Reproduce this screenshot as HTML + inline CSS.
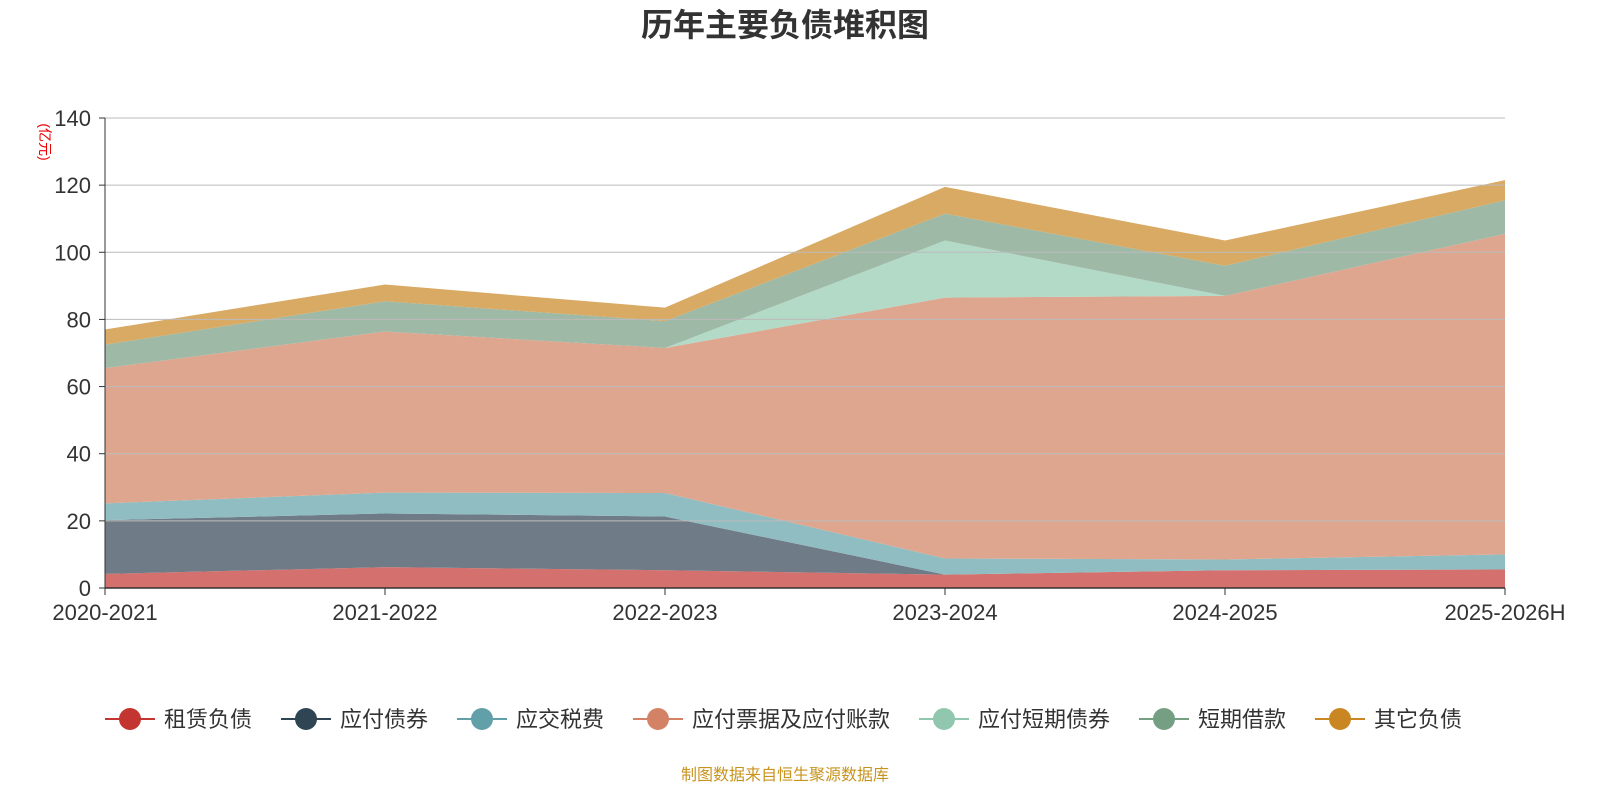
<!DOCTYPE html>
<html><head><meta charset="utf-8"><style>
body{margin:0;background:#fff;width:1600px;height:800px;overflow:hidden;font-family:"Liberation Sans","Noto Sans CJK SC",sans-serif}
</style></head><body>
<svg id="chart" width="1600" height="800" xmlns="http://www.w3.org/2000/svg"></svg>
<script>
const categories=["2020-2021","2021-2022","2022-2023","2023-2024","2024-2025","2025-2026H"];
const seriesNames=["租赁负债","应付债券","应交税费","应付票据及应付账款","应付短期债券","短期借款","其它负债"];
const rent=[4.2,6.2,5.3,4.0,5.3,5.5];
const bonds=[16,16,16,0,0,0];
const tax=[5,6.2,7,4.8,3.2,4.5];
const payables=[40.3,48,43.2,77.7,78.5,95.5];
const shortBonds=[0,0,0,17,0,0];
const loans=[7,9,8,8,9,10];
const other=[4.5,5,4,8,7.5,6];
const yTicks=[0,20,40,60,80,100,120,140];
const series=[rent,bonds,tax,payables,shortBonds,loans,other];
const fills=["#d4706d","#6f7c87","#8fbdc2","#dfa68f","#b3d9c7","#9eb9a5","#d9aa63"];
const dots=["#c23531","#2f4554","#61a0a8","#d48265","#91c7ae","#749f83","#ca8622"];
const svg=document.getElementById('chart');const NS="http://www.w3.org/2000/svg";
const X0=105,X1=1505,Y0=588,Y1=118;
const x=i=>X0+i*(X1-X0)/(categories.length-1);
const y=v=>Y0-(v/140)*(Y0-Y1);
function el(t,a,p){const e=document.createElementNS(NS,t);for(const k in a)e.setAttribute(k,a[k]);(p||svg).appendChild(e);return e;}
let t=el('text',{x:785,y:36,'text-anchor':'middle','font-size':32,'font-weight':'bold',fill:'#333'});t.textContent="历年主要负债堆积图";


let cum=categories.map(()=>0);
series.forEach((s,si)=>{
 const low=cum.slice();cum=cum.map((c,i)=>c+s[i]);
 let d="";cum.forEach((c,i)=>d+=(i?"L":"M")+x(i)+","+y(c));
 for(let i=low.length-1;i>=0;i--)d+="L"+x(i)+","+y(low[i]);
 const p=el('path',{d:d+"Z",fill:fills[si]});
 
 
});
yTicks.forEach(v=>{
 const g=el('line',{x1:X0,x2:X1,y1:y(v),y2:y(v),stroke:v?'#bbb':'#333','stroke-width':v?1:1.5});
 
 
 el('line',{x1:X0-6,x2:X0,y1:y(v),y2:y(v),stroke:'#333'});
 const l=el('text',{x:X0-14,y:y(v)+8,'text-anchor':'end','font-size':22,fill:'#333'});l.textContent=v;
 
 
});
el('line',{x1:X0,x2:X0,y1:Y1,y2:Y0,stroke:'#333'});
const u=el('text',{x:0,y:0,transform:'translate(40,142) rotate(90)','text-anchor':'middle','font-size':14,fill:'#e00'});u.textContent="(亿元)";


categories.forEach((c,i)=>{
 el('line',{x1:x(i),x2:x(i),y1:Y0,y2:Y0+7,stroke:'#333'});
 const l=el('text',{x:x(i),y:620,'text-anchor':'middle','font-size':22,fill:'#333'});
 l.textContent=c;
 
 
});
let lx=105;
seriesNames.forEach((n,i)=>{
 const g=el('g',{});
 
 
 el('line',{x1:lx,x2:lx+50,y1:719,y2:719,stroke:dots[i],'stroke-width':2},g);
 el('circle',{cx:lx+25,cy:719,r:11,fill:dots[i]},g);
 const tt=el('text',{x:lx+59,y:727,'font-size':22,fill:'#333'},g);tt.textContent=n;
 lx+=59+n.length*22+29;
});
const f=el('text',{x:785,y:780,'text-anchor':'middle','font-size':16,fill:'#c8941e'});f.textContent="制图数据来自恒生聚源数据库";


</script>
</body></html>
